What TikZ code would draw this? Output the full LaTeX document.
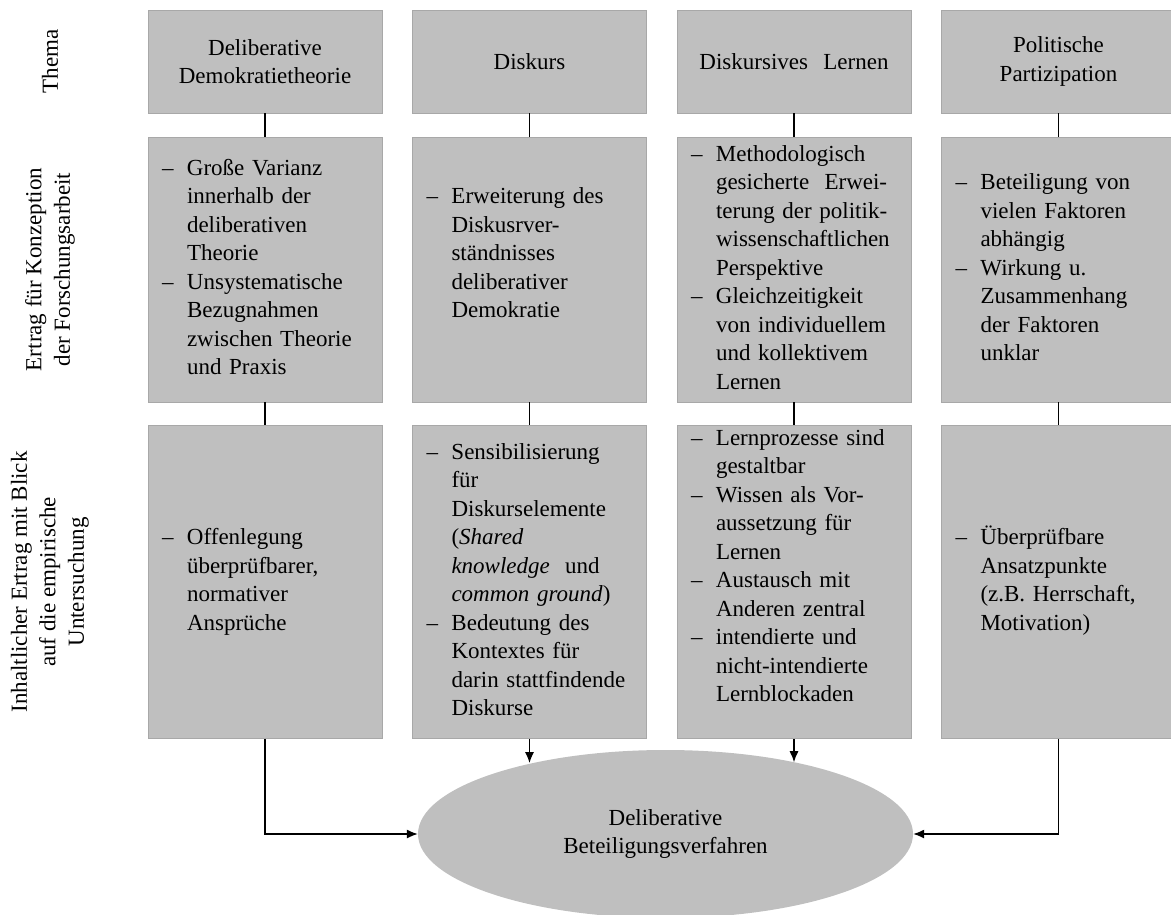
\documentclass[tikz,border=0pt]{standalone}
\usepackage{fontspec}
\setmainfont{Liberation Serif}
\usetikzlibrary{shapes.geometric,arrows.meta}

\definecolor{boxgray}{HTML}{BFBFBF}
\definecolor{edgegray}{HTML}{A8A8A8}

% bullet list: dash in the first column, hanging text in the second
\newcommand{\itemlist}[1]{\noindent\begin{tabular}{@{}p{25pt}@{}l@{}}#1\end{tabular}}
\newcommand{\dash}{\textendash}

\tikzset{
  base/.style={font=\fontsize{23}{28.5}\selectfont, text=black},
  cell/.style={base, rectangle, fill=boxgray, draw=edgegray, line width=0.8pt,
    minimum width=234pt, inner xsep=14pt, inner ysep=0pt, text width=206pt, align=left},
  titlecell/.style={cell, minimum height=103pt, align=center},
  rowa/.style={cell, minimum height=265pt},
  rowb/.style={cell, minimum height=313pt},
  rowlabel/.style={base, rotate=90, align=center},
  link/.style={line width=1.3pt, black},
  arrowlink/.style={link, -{Latex[length=11pt,width=9pt]}},
  target/.style={base, ellipse, fill=boxgray, draw=none, minimum width=495pt,
    minimum height=168pt, inner sep=0pt, align=center}
}

\begin{document}
\begin{tikzpicture}[x=1pt, y=-1pt]
\clip (0,0) rectangle (1171,914);
\useasboundingbox (0,0) rectangle (1171,914);

% row labels
\node[rowlabel] (lab1) at (50,61.5) {Thema};
\node[rowlabel] (lab2) at (50,269.5) {Ertrag für Konzeption\\der Forschungsarbeit};
\node[rowlabel] (lab3) at (50,582) {Inhaltlicher Ertrag mit Blick\\auf die empirische\\Untersuchung};

% topics
\node[titlecell] (t1) at (265,61.5) {Deliberative\\Demokratietheorie};
\node[titlecell] (t2) at (529.5,61.5) {Diskurs};
\node[titlecell] (t3) at (794,61.5) {Diskursives\ \ Lernen};
\node[titlecell] (t4) at (1058.5,61.5) {Politische\\Partizipation};

% contribution to the conception
\node[rowa] (a1) at (265,269.5) {\itemlist{
  \dash & Große Varianz\\
        & innerhalb der\\
        & deliberativen\\
        & Theorie\\
  \dash & Unsystematische\\
        & Bezugnahmen\\
        & zwischen Theorie\\
        & und Praxis}};
\node[rowa] (a2) at (529.5,269.5) {\itemlist{
  \dash & Erweiterung des\\
        & Diskusrver-\\
        & ständnisses\\
        & deliberativer\\
        & Demokratie\\
        & }};
\node[rowa] (a3) at (794,269.5) {\itemlist{
  \dash & Methodologisch\\
        & gesicherte\ \ Erwei-\\
        & terung der politik-\\
        & wissenschaftlichen\\
        & Perspektive\\
  \dash & Gleichzeitigkeit\\
        & von individuellem\\
        & und kollektivem\\
        & Lernen}};
\node[rowa] (a4) at (1058.5,269.5) {\itemlist{
  \dash & Beteiligung von\\
        & vielen Faktoren\\
        & abhängig\\
  \dash & Wirkung u.\\
        & Zusammenhang\\
        & der Faktoren\\
        & unklar}};

% contribution to the empirical study
\node[rowb] (b1) at (265,582) {\itemlist{
  \dash & Offenlegung\\
        & überprüfbarer,\\
        & normativer\\
        & Ansprüche}};
\node[rowb] (b2) at (529.5,582) {\itemlist{
  \dash & Sensibilisierung\\
        & für\\
        & Diskurselemente\\
        & (\textit{Shared}\\
        & \textit{knowledge}\ \ und\\
        & \textit{common ground})\\
  \dash & Bedeutung des\\
        & Kontextes für\\
        & darin stattfindende\\
        & Diskurse}};
\node[rowb] (b3) at (794,582) {\itemlist{
  \dash & Lernprozesse sind\\
        & gestaltbar\\
  \dash & Wissen als Vor-\\
        & aussetzung für\\
        & Lernen\\
  \dash & Austausch mit\\
        & Anderen zentral\\
  \dash & intendierte und\\
        & nicht-intendierte\\
        & Lernblockaden\\
        & }};
\node[rowb] (b4) at (1058.5,582) {\itemlist{
  \dash & Überprüfbare\\
        & Ansatzpunkte\\
        & (z.B. Herrschaft,\\
        & Motivation)}};

% outcome
\node[target] (ell) at (665.5,834) {Deliberative\\Beteiligungsverfahren};

% vertical links between the rows
\foreach \c in {1,2,3,4} {
  \draw[link] (t\c.south) -- (a\c.north);
  \draw[link] (a\c.south) -- (b\c.north);
}

% arrows into the outcome
\draw[arrowlink] (b1.south) |- (ell.west);
\draw[arrowlink] (b4.south) |- (ell.east);
\draw[arrowlink] (b2.south) -- (b2.south |- ell.152.7);
\draw[arrowlink] (b3.south) -- (b3.south |- ell.29.1);
\end{tikzpicture}
\end{document}
